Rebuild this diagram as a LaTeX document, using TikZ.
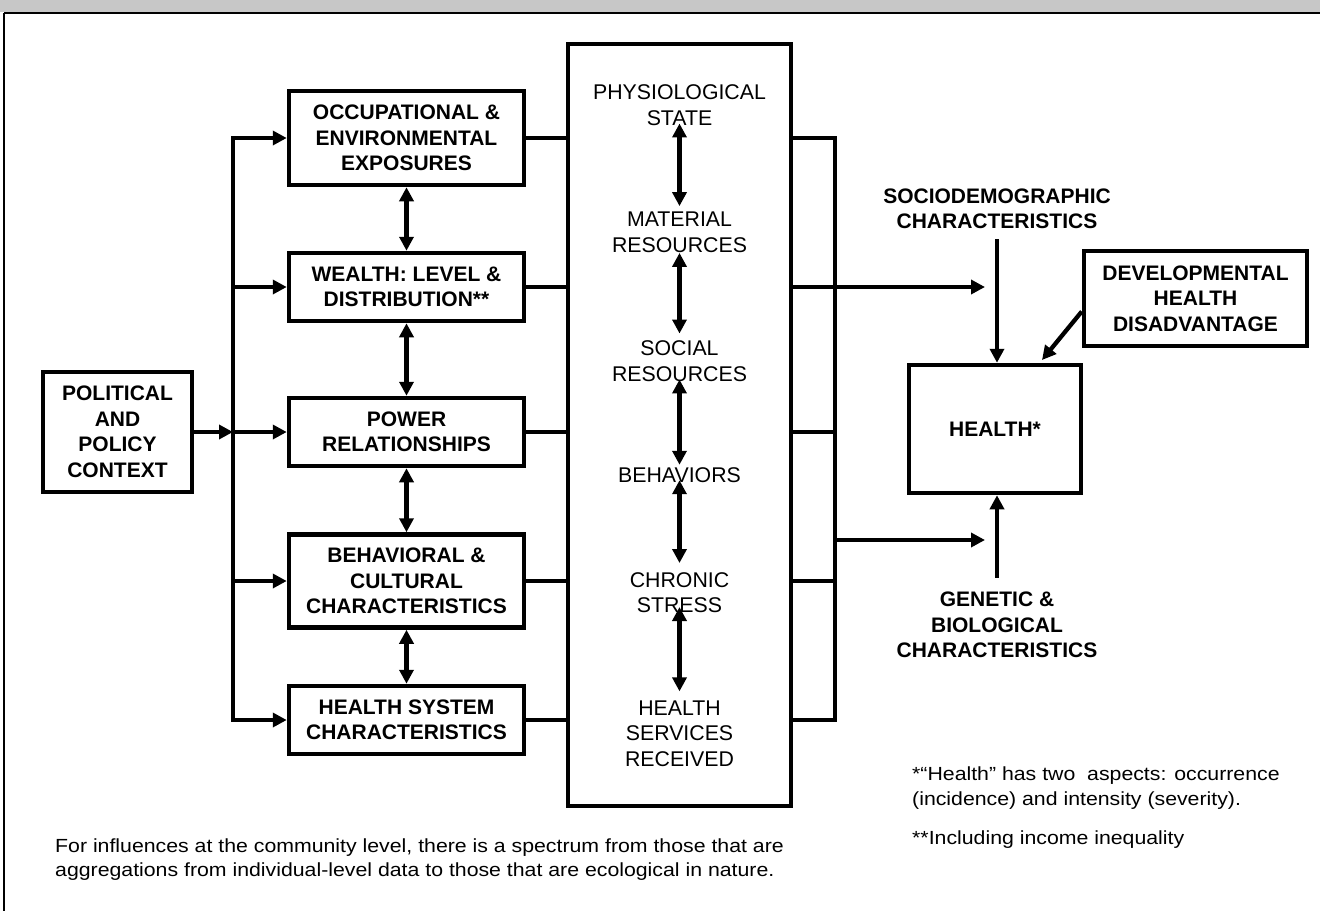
\documentclass[tikz,border=0pt]{standalone}
\usepackage{fontspec}
\setmainfont{Liberation Sans}
\newfontfamily\notefont[FakeStretch=1.12]{Liberation Sans}
\usetikzlibrary{arrows.meta}
\begin{document}
\begin{tikzpicture}[x=1pt,y=-1pt,
  box/.style={draw,line width=4.5pt,rectangle,inner sep=0pt,align=center,
    font=\bfseries\fontsize{21}{25.5}\selectfont},
  midtext/.style={align=center,inner sep=0pt,font=\fontsize{21.3}{25.5}\selectfont},
  lbl/.style={align=center,inner sep=0pt,font=\bfseries\fontsize{21}{25.5}\selectfont},
  note/.style={align=left,inner sep=0pt,anchor=west,font=\notefont\fontsize{19}{24.5}\selectfont},
  wire/.style={line width=4.3pt},
  arr/.style={wire,-{Triangle[length=14pt,width=14pt]}},
  darr/.style={wire,{Triangle[length=14pt,width=14pt]}-{Triangle[length=14pt,width=14pt]}},
]
% page, header band and frame
\useasboundingbox (0,0) rectangle (1320,911);
\fill[white] (0,0) rectangle (1320,911);
\fill[black!22] (0,0) rectangle (1320,12);
\draw[line width=2.5pt] (4,13) -- (1320,13);
\draw[line width=2pt] (4,13) -- (4,911);

% bus positions
\coordinate (lb) at (233,0);
\coordinate (rb) at (835,0);

% left column
\node[box,minimum width=149pt,minimum height=120pt] (pol) at (117.5,432) {POLITICAL\\AND\\POLICY\\CONTEXT};
\node[box,minimum width=235pt,minimum height=94pt] (occ) at (406.5,138) {OCCUPATIONAL \&\\ENVIRONMENTAL\\EXPOSURES};
\node[box,minimum width=235pt,minimum height=68pt] (wea) at (406.5,287) {WEALTH: LEVEL \&\\DISTRIBUTION**};
\node[box,minimum width=235pt,minimum height=68pt] (pow) at (406.5,432) {POWER\\RELATIONSHIPS};
\node[box,minimum width=235pt,minimum height=93pt] (beh) at (406.5,581) {BEHAVIORAL \&\\CULTURAL\\CHARACTERISTICS};
\node[box,minimum width=235pt,minimum height=68pt] (hsys) at (406.5,720) {HEALTH SYSTEM\\CHARACTERISTICS};

% middle column
\node[draw,line width=4.5pt,minimum width=223pt,minimum height=762pt,inner sep=0pt] (mid) at (679.5,425) {};
\node[midtext] (phys) at (679.5,105) {PHYSIOLOGICAL\\STATE};
\node[midtext] (mat) at (679.5,232.5) {MATERIAL\\RESOURCES};
\node[midtext] (soc) at (679.5,361) {SOCIAL\\RESOURCES};
\node[midtext] (behv) at (679.5,475.5) {BEHAVIORS};
\node[midtext] (chron) at (679.5,592.5) {CHRONIC\\STRESS};
\node[midtext] (hserv) at (679.5,733.5) {HEALTH\\SERVICES\\RECEIVED};

% right side
\node[box,minimum width=172pt,minimum height=128pt] (hlth) at (995,429) {HEALTH*};
\node[box,minimum width=223pt,minimum height=95pt] (dev) at (1195.5,298.5) {DEVELOPMENTAL\\HEALTH\\DISADVANTAGE};
\node[lbl] (socio) at (997,209) {SOCIODEMOGRAPHIC\\CHARACTERISTICS};
\node[lbl] (gen) at (997,625) {GENETIC \&\\BIOLOGICAL\\CHARACTERISTICS};
\coordinate (t1) at (985,287);
\coordinate (s2) at (835,540);
\coordinate (t2) at (985,540);
\coordinate (dtip) at (1042,360);

% notes
\node[note] (comm) at (55,859.5) {For influences at the community level, there is a spectrum from those that are\\aggregations from individual-level data to those that are ecological in nature.};
\node[note] (fn1) at (912,788) {*“Health” has two~ aspects: occurrence\\(incidence) and intensity (severity).};
\node[note] (fn2) at (912,840) {**Including income inequality};

% left bus and its arrows
\draw[arr] (pol.east) -- (pol.east -| lb);
\draw[arr] (lb |- pow.west) |- (occ.west);
\draw[arr] (lb |- pow.west) |- (hsys.west);
\draw[arr] (lb |- wea.west) -- (wea.west);
\draw[arr] (lb |- pow.west) -- (pow.west);
\draw[arr] (lb |- beh.west) -- (beh.west);

% links between left boxes
\draw[darr] (occ.south) -- (wea.north);
\draw[darr] (wea.south) -- (pow.north);
\draw[darr] (pow.south) -- (beh.north);
\draw[darr] (beh.south) -- (hsys.north);

% left boxes into the middle column
\foreach \n in {occ,wea,pow,beh,hsys}
  \draw[wire] (\n.east) -- (\n.east -| mid.west);

% links inside the middle column
\draw[darr,shorten <=-2pt,shorten >=6pt] (phys.south) -- (mat.north);
\draw[darr,shorten <=0pt,shorten >=7pt] (mat.south) -- (soc.north);
\draw[darr,shorten <=-2pt,shorten >=3pt] (soc.south) -- (behv.north);
\draw[darr,shorten <=-3pt,shorten >=9pt] (behv.south) -- (chron.north);
\draw[darr,shorten <=-6pt,shorten >=9pt] (chron.south) -- (hserv.north);

% middle column to the right bus
\draw[wire] (occ.east -| mid.east) -| (rb |- hsys.east) -- (hsys.east -| mid.east);
\draw[wire] (wea.east -| mid.east) -- (wea.east -| rb);
\draw[wire] (pow.east -| mid.east) -- (pow.east -| rb);
\draw[wire] (beh.east -| mid.east) -- (beh.east -| rb);

% right bus toward health
\draw[arr] (wea.east -| rb) -- (t1);
\draw[arr] (s2) -- (t2);
\draw[arr,shorten <=10pt] (socio.south) -- (socio.south |- hlth.north);
\draw[arr,shorten <=14pt] (gen.north) -- (gen.north |- hlth.south);
\draw[arr] ([yshift=-13pt]dev.west) -- (dtip);
\end{tikzpicture}
\end{document}
